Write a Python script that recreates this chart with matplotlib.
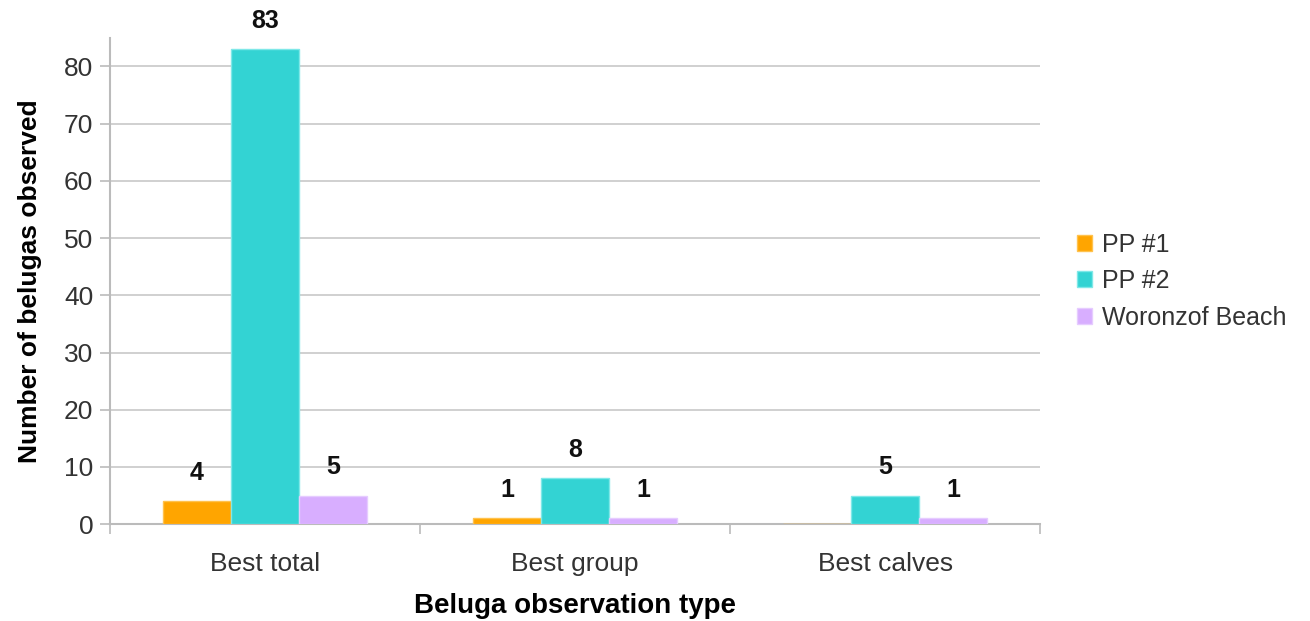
import matplotlib.pyplot as plt
import numpy as np

plt.rcParams['font.family'] = ['Liberation Sans', 'DejaVu Sans']

categorias = ["Best total", "Best group", "Best calves"]
series = ["PP #1", "PP #2", "Woronzof Beach"]
pp1 = [4, 1, 0]
pp2 = [83, 8, 5]
woronzof = [5, 1, 1]
etiquetas_pp1 = ["4", "1", ""]
etiquetas_pp2 = ["83", "8", "5"]
etiquetas_wor = ["5", "1", "1"]

colores = ["#FFA500", "#33D3D3", "#D8AEFF"]
bordes = ["#FFC24D", "#7FE8E8", "#E6CCFF"]

fig = plt.figure(figsize=(13.1, 6.21), dpi=100)
ax = fig.add_axes([0.084, 0.156, 0.71, 0.783])

x = np.arange(len(categorias))
ancho = 0.22
datos = [pp1, pp2, woronzof]
etiquetas = [etiquetas_pp1, etiquetas_pp2, etiquetas_wor]
for i, (vals, labs) in enumerate(zip(datos, etiquetas)):
    pos = x + (i - 1) * ancho
    ax.bar(pos, vals, ancho, color=colores[i], edgecolor=bordes[i],
           linewidth=1, label=series[i], zorder=3)
    for p, v, t in zip(pos, vals, labs):
        if t:
            ax.annotate(t, (p, v), xytext=(0, 12), textcoords="offset points",
                        ha="center", va="bottom", fontsize=18,
                        fontweight="bold", color="#111111")

ax.set_xlim(-0.5, 2.5)
ax.set_ylim(0, 85)
ax.set_yticks(range(0, 81, 10))
ax.yaxis.grid(True, color="#C8C8C8", linewidth=1.2, zorder=0)
ax.set_axisbelow(True)

ax.set_xticks(x)
ax.set_xticklabels(categorias)
ax.set_xticks([-0.5, 0.5, 1.5, 2.5], minor=True)
ax.tick_params(axis="x", which="major", length=0, pad=20, labelsize=19,
               labelcolor="#333333")
ax.tick_params(axis="x", which="minor", length=7, color="#BBBBBB", width=1.2)
ax.tick_params(axis="y", length=7, color="#BBBBBB", width=1.2, labelsize=19,
               labelcolor="#333333", pad=5)

for s in ["top", "right"]:
    ax.spines[s].set_visible(False)
for s in ["left", "bottom"]:
    ax.spines[s].set_color("#BBBBBB")
    ax.spines[s].set_linewidth(1.5)

ax.set_xlabel("Beluga observation type", fontsize=20, fontweight="bold",
              labelpad=12)
ax.set_ylabel("Number of belugas observed", fontsize=19, fontweight="bold",
              labelpad=16)

ax.legend(loc="center left", bbox_to_anchor=(1.015, 0.5), frameon=False,
          fontsize=18, handlelength=0.6, handleheight=0.6,
          handletextpad=0.4, labelspacing=0.5, labelcolor="#333333")

plt.savefig("out.png", dpi=100)
